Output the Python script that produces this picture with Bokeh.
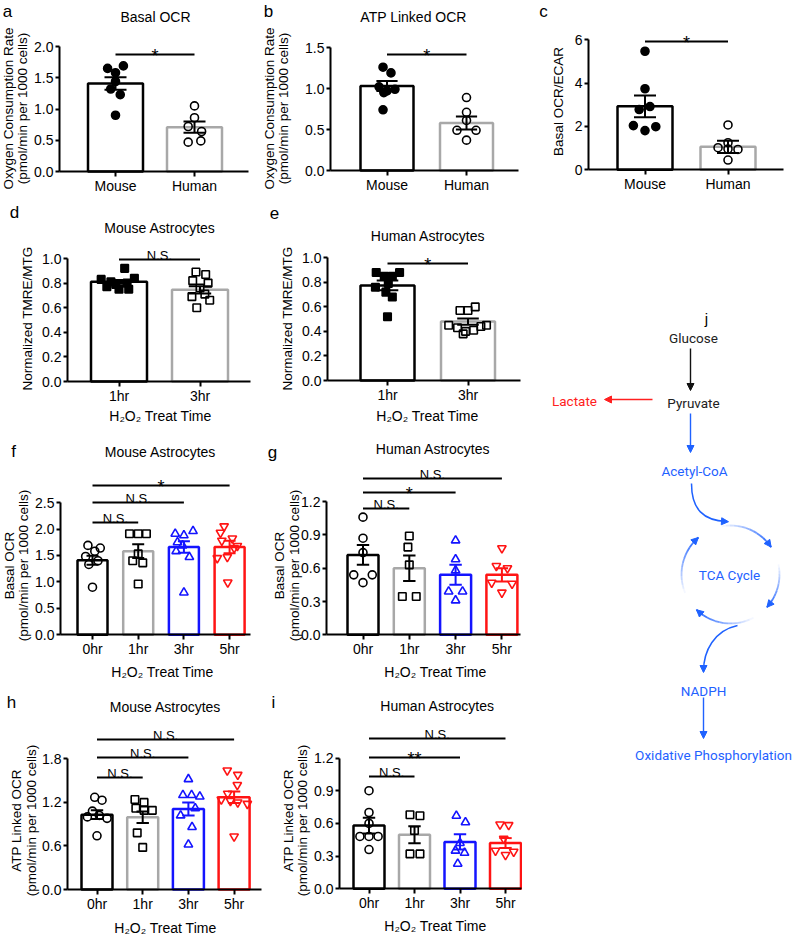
import math
from bokeh.plotting import figure
from bokeh.layouts import row, column
from bokeh.models import Range1d, FixedTicker, PrintfTickFormatter, Label, Arrow, NormalHead
from bokeh.embed import file_html
from bokeh.resources import INLINE

# ---------------- data ----------------
cats_species = ["Mouse", "Human"]
cats_1_3 = ["1hr", "3hr"]
cats_time = ["0hr", "1hr", "3hr", "5hr"]

# a  Basal OCR
a_means = [1.41, 0.71]
a_sems = [0.10, 0.09]
a_mouse = [1.65, 1.69, 1.58, 1.44, 1.32, 1.23, 0.90]
a_mouse_dx = [-0.10, 0.10, 0.0, 0.0, -0.06, 0.06, 0.0]
a_human = [1.05, 0.86, 0.72, 0.64, 0.47, 0.49]
a_human_dx = [0.0, 0.0, -0.08, 0.09, -0.08, 0.08]

# b  ATP linked OCR
b_means = [1.03, 0.58]
b_sems = [0.06, 0.08]
b_mouse = [1.26, 1.19, 1.02, 0.99, 0.97, 0.95, 0.74]
b_mouse_dx = [-0.05, 0.05, -0.10, 0.10, 0.0, -0.04, -0.05]
b_human = [0.89, 0.71, 0.61, 0.49, 0.49, 0.37]
b_human_dx = [0.0, 0.0, 0.0, -0.12, 0.12, 0.0]

# c  Basal OCR/ECAR
c_means = [2.93, 1.06]
c_sems = [0.50, 0.28]
c_mouse = [5.47, 3.74, 2.92, 2.78, 2.04, 1.99, 1.81]
c_mouse_dx = [0.0, 0.0, 0.06, -0.07, -0.14, 0.13, 0.0]
c_human = [2.07, 1.25, 1.02, 0.96, 0.94, 0.45]
c_human_dx = [0.0, 0.0, -0.12, 0.0, 0.12, 0.0]

# d  Mouse astrocytes TMRE/MTG
d_means = [0.81, 0.745]
d_sems = [0.015, 0.03]
d_1hr = [0.92, 0.83, 0.84, 0.81, 0.80, 0.79, 0.77, 0.75, 0.75]
d_1hr_dx = [0.07, -0.22, 0.19, -0.10, 0.10, -0.04, -0.15, 0.12, 0.0]
d_3hr = [0.89, 0.87, 0.82, 0.80, 0.76, 0.71, 0.69, 0.66, 0.60]
d_3hr_dx = [-0.05, 0.07, -0.09, 0.10, 0.0, 0.06, -0.10, 0.12, -0.04]

# e  Human astrocytes TMRE/MTG
e_means = [0.775, 0.48]
e_sems = [0.04, 0.025]
e_1hr = [0.88, 0.85, 0.85, 0.88, 0.79, 0.76, 0.72, 0.68, 0.52]
e_1hr_dx = [-0.14, -0.04, 0.06, 0.15, 0.01, -0.15, -0.02, 0.06, 0.0]
e_3hr = [0.57, 0.57, 0.60, 0.45, 0.43, 0.40, 0.41, 0.44, 0.45, 0.38]
e_3hr_dx = [-0.10, 0.0, 0.09, -0.24, -0.13, -0.03, 0.07, 0.16, 0.23, -0.06]

# f  Mouse astrocytes basal OCR
f_means = [1.41, 1.58, 1.66, 1.66]
f_sems = [0.085, 0.13, 0.11, 0.12]
f_0hr = [1.69, 1.64, 1.58, 1.48, 1.40, 1.33, 0.90]
f_0hr_dx = [-0.10, 0.17, 0.05, -0.15, 0.12, -0.08, 0.0]
f_1hr = [1.91, 1.91, 1.91, 1.53, 1.40, 1.36, 0.96]
f_1hr_dx = [-0.19, 0.0, 0.18, 0.0, -0.12, 0.10, 0.0]
f_3hr = [1.91, 1.88, 1.96, 1.75, 1.69, 1.58, 1.47, 0.80]
f_3hr_dx = [-0.19, 0.0, 0.20, -0.14, -0.03, -0.17, 0.12, 0.0]
f_5hr = [2.05, 1.93, 1.82, 1.78, 1.68, 1.64, 1.47, 1.45, 0.99]
f_5hr_dx = [-0.12, -0.20, 0.06, -0.17, 0.17, 0.10, -0.05, -0.27, -0.04]

# g  Human astrocytes basal OCR
g_means = [0.72, 0.60, 0.54, 0.54]
g_sems = [0.09, 0.115, 0.09, 0.06]
g_0hr = [1.06, 0.87, 0.74, 0.54, 0.54, 0.47]
g_0hr_dx = [0.0, 0.0, 0.0, -0.20, 0.20, 0.0]
g_1hr = [0.89, 0.79, 0.63, 0.345, 0.345]
g_1hr_dx = [0.0, -0.03, 0.0, -0.15, 0.15]
g_3hr = [0.85, 0.68, 0.58, 0.39, 0.39, 0.31]
g_3hr_dx = [0.0, 0.0, 0.0, -0.15, 0.15, 0.0]
g_5hr = [0.78, 0.62, 0.60, 0.47, 0.46, 0.38]
g_5hr_dx = [0.0, -0.12, 0.12, -0.22, 0.22, 0.0]

# h  Mouse astrocytes ATP linked OCR
h_means = [1.03, 0.995, 1.11, 1.27]
h_sems = [0.06, 0.08, 0.09, 0.08]
h_0hr = [1.27, 1.23, 1.08, 1.02, 1.00, 0.98, 0.74]
h_0hr_dx = [-0.05, 0.11, -0.10, 0.05, -0.21, 0.22, 0.0]
h_1hr = [1.24, 1.20, 1.12, 1.09, 1.09, 0.78, 0.58]
h_1hr_dx = [-0.17, 0.03, -0.15, 0.03, 0.21, -0.12, 0.0]
h_3hr = [1.52, 1.30, 1.30, 1.28, 1.12, 1.02, 0.86, 0.62]
h_3hr_dx = [0.0, -0.12, 0.07, 0.25, 0.15, -0.17, 0.08, 0.0]
h_5hr = [1.64, 1.58, 1.44, 1.32, 1.24, 1.22, 1.20, 1.18, 0.73]
h_5hr_dx = [-0.15, 0.08, 0.07, -0.14, -0.28, -0.08, 0.08, 0.29, 0.0]

# i  Human astrocytes ATP linked OCR
i_means = [0.58, 0.495, 0.43, 0.42]
i_sems = [0.072, 0.078, 0.07, 0.045]
i_0hr = [0.90, 0.70, 0.60, 0.48, 0.48, 0.48, 0.36]
i_0hr_dx = [0.0, 0.0, 0.0, -0.20, 0.0, 0.20, 0.0]
i_1hr = [0.68, 0.67, 0.535, 0.32, 0.32]
i_1hr_dx = [-0.10, 0.12, 0.0, -0.10, 0.12]
i_3hr = [0.67, 0.61, 0.42, 0.35, 0.33, 0.23]
i_3hr_dx = [-0.08, 0.12, 0.0, -0.10, 0.10, -0.05]
i_5hr = [0.59, 0.585, 0.46, 0.35, 0.31, 0.34]
i_5hr_dx = [-0.12, 0.07, -0.04, -0.22, 0.0, 0.18]

# ---------------- styling ----------------
FONT = "Liberation Sans"
BLACK = "#000000"
GREY = "#a8a8a8"
BLUE = "#1414ff"
RED = "#ff1414"
DBLUE = "#1f62ff"
DRED = "#ff2020"

ST_MOUSE = dict(marker="circle", fill=BLACK, line=BLACK, size=8)
ST_HUMAN = dict(marker="circle", fill=None, line=BLACK, size=8)
ST_SQF = dict(marker="square", fill=BLACK, line=BLACK, size=7.5)
ST_SQO = dict(marker="square", fill=None, line=BLACK, size=7.5)
ST_T0 = dict(marker="circle", fill=None, line=BLACK, size=8)
ST_T1 = dict(marker="square", fill=None, line=BLACK, size=7.5)
ST_T3 = dict(marker="triangle", fill=None, line=BLUE, size=8.5)
ST_T5 = dict(marker="inverted_triangle", fill=None, line=RED, size=8.5)

XLAB = "H\u2082O\u2082 Treat Time"
PMOL = "(pmol/min per 1000 cells)"


def label(p, x, y, text, size, color=BLACK, font=FONT, angle=0.0, align="center",
          baseline="middle"):
    p.add_layout(Label(x=x, y=y, text=text, text_align=align, text_baseline=baseline,
                       text_font=font, text_font_size=size, text_color=color, angle=angle))


def build(g, cats, means, sems, groups, bar_colors, err_colors, yticks, fmt,
          ylabels, xlabel, title, letter, sigs):
    fx, fy, W, H = g["fx"], g["fy"], g["W"], g["H"]
    ax, ar, y0, ppu, c0, dc = g["ax"], g["ar"], g["y0"], g["ppu"], g["c0"], g["dc"]

    def X(sx):
        return (sx - c0) / dc

    def Y(sy):
        return (y0 - sy) / ppu

    p = figure(width=W, height=H, x_range=Range1d(X(fx), X(fx + W)),
               y_range=Range1d(Y(fy + H), Y(fy)), min_border=0,
               output_backend="svg", toolbar_location=None, title=None)
    p.xgrid.visible = False
    p.ygrid.visible = False
    p.outline_line_color = None
    p.background_fill_color = "white"
    p.border_fill_color = "white"

    n = len(cats)
    idx = list(range(n))
    p.xaxis.fixed_location = 0
    p.yaxis.fixed_location = X(ax)
    p.xaxis.bounds = (X(ax), X(ar))
    p.yaxis.bounds = (0, yticks[-1])
    p.xaxis.ticker = FixedTicker(ticks=idx)
    p.xaxis.major_label_overrides = {i: c for i, c in enumerate(cats)}
    p.yaxis.ticker = FixedTicker(ticks=yticks)
    p.yaxis.formatter = PrintfTickFormatter(format=fmt)
    for a in p.axis:
        a.axis_line_width = 2
        a.axis_line_color = BLACK
        a.major_tick_line_width = 2
        a.major_tick_line_color = BLACK
        a.major_tick_in = 0
        a.minor_tick_line_color = None
        a.major_label_text_font = FONT
        a.major_label_text_font_size = "14px"
        a.major_label_text_color = BLACK
    p.xaxis.major_tick_out = 5
    p.xaxis.major_label_standoff = 1
    p.yaxis.major_tick_out = 4
    p.yaxis.major_label_standoff = 2

    bw = g["bar"] / dc
    p.vbar(x=idx, width=bw, top=means, bottom=0, fill_color="white",
           line_color=bar_colors, line_width=2.5)

    for k, (vals, dxs, st) in enumerate(groups):
        p.scatter(x=[k + d for d in dxs], y=vals, marker=st["marker"], size=st["size"],
                  fill_color=st["fill"], line_color=st["line"], line_width=1.6)

    cw = 0.4 * bw / 2
    lo = [m - s for m, s in zip(means, sems)]
    hi = [m + s for m, s in zip(means, sems)]
    p.segment(x0=idx, y0=lo, x1=idx, y1=hi, line_color=err_colors, line_width=2)
    p.segment(x0=[i - cw for i in idx], y0=hi, x1=[i + cw for i in idx], y1=hi,
              line_color=err_colors, line_width=2)
    p.segment(x0=[i - cw for i in idx], y0=lo, x1=[i + cw for i in idx], y1=lo,
              line_color=err_colors, line_width=2)

    for (i0, i1, txt, ly) in sigs:
        p.segment(x0=[i0], y0=[Y(ly)], x1=[i1], y1=[Y(ly)], line_color=BLACK, line_width=2)
        if "*" in txt:
            label(p, (i0 + i1) / 2, Y(ly + 1.5), txt, "18px", baseline="alphabetic")
        else:
            label(p, (i0 + i1) / 2, Y(ly - 4), txt, "13px", baseline="alphabetic")

    for (txt, sx, sy) in ylabels:
        label(p, X(sx), Y(sy), txt, "13.5px", angle=math.pi / 2)
    if xlabel:
        label(p, X(xlabel[0]), Y(xlabel[1]), XLAB, "14px")
    if title:
        label(p, X(title[0]), Y(title[1]), title[2], "14px")
    label(p, X(letter[0]), Y(letter[1]), letter[2], "17px")
    return p


# ---------------- panels ----------------
pa = build(dict(fx=0, fy=0, W=262, H=200, ax=59, ar=248, y0=171, ppu=62.5, c0=115, dc=79, bar=55),
           cats_species, a_means, a_sems,
           [(a_mouse, a_mouse_dx, ST_MOUSE), (a_human, a_human_dx, ST_HUMAN)],
           [BLACK, GREY], [BLACK, BLACK], [0, 0.5, 1.0, 1.5, 2.0], "%.1f",
           [("Oxygen Consumption Rate", 8, 108), (PMOL, 22, 108)], None,
           (155, 16, "Basal OCR"), (7, 11, "a"), [(0, 1, "*", 54)])

pb = build(dict(fx=262, fy=0, W=260, H=200, ax=330, ar=518, y0=170, ppu=82, c0=386.5, dc=79.5, bar=53),
           cats_species, b_means, b_sems,
           [(b_mouse, b_mouse_dx, ST_MOUSE), (b_human, b_human_dx, ST_HUMAN)],
           [BLACK, GREY], [BLACK, BLACK], [0, 0.5, 1.0, 1.5], "%.1f",
           [("Oxygen Consumption Rate", 269, 108), (PMOL, 283, 108)], None,
           (413, 16, "ATP Linked OCR"), (268, 11, "b"), [(0, 1, "*", 54)])

pc = build(dict(fx=522, fy=0, W=278, H=200, ax=588, ar=783, y0=169.3, ppu=21.67, c0=644.5, dc=83, bar=55),
           cats_species, c_means, c_sems,
           [(c_mouse, c_mouse_dx, ST_MOUSE), (c_human, c_human_dx, ST_HUMAN)],
           [BLACK, GREY], [BLACK, BLACK], [0, 2, 4, 6], "%d",
           [("Basal OCR/ECAR", 558, 101)], None,
           None, (543, 11, "c"), [(0, 1, "*", 41)])

pd_ = build(dict(fx=0, fy=200, W=262, H=225, ax=67, ar=250, y0=381, ppu=123, c0=118.5, dc=81, bar=56),
            cats_1_3, d_means, d_sems,
            [(d_1hr, d_1hr_dx, ST_SQF), (d_3hr, d_3hr_dx, ST_SQO)],
            [BLACK, GREY], [BLACK, BLACK], [0, 0.2, 0.4, 0.6, 0.8, 1.0], "%.1f",
            [("Normalized TMRE/MTG", 27, 318)], (160, 415),
            (159.5, 227, "Mouse Astrocytes"), (14, 212, "d"), [(0, 1, "N.S.", 259)])

pe = build(dict(fx=262, fy=200, W=260, H=225, ax=327, ar=520, y0=380, ppu=122.7, c0=387, dc=80.5, bar=54),
           cats_1_3, e_means, e_sems,
           [(e_1hr, e_1hr_dx, ST_SQF), (e_3hr, e_3hr_dx, ST_SQO)],
           [BLACK, GREY], [BLACK, BLACK], [0, 0.2, 0.4, 0.6, 0.8, 1.0], "%.1f",
           [("Normalized TMRE/MTG", 287, 318)], (427, 415),
           (427.5, 235, "Human Astrocytes"), (274, 212, "e"), [(0, 1, "*", 263)])

TIME_BARS = [BLACK, GREY, BLUE, RED]
TIME_ERR = [BLACK, BLACK, BLUE, RED]

pf = build(dict(fx=0, fy=425, W=262, H=258, ax=60, ar=250, y0=634.3, ppu=52.9, c0=92, dc=45.7, bar=30),
           cats_time, f_means, f_sems,
           [(f_0hr, f_0hr_dx, ST_T0), (f_1hr, f_1hr_dx, ST_T1),
            (f_3hr, f_3hr_dx, ST_T3), (f_5hr, f_5hr_dx, ST_T5)],
           TIME_BARS, TIME_ERR, [0, 0.5, 1.0, 1.5, 2.0, 2.5], "%.1f",
           [("Basal OCR", 9, 565), (PMOL, 23, 565)], (162, 671),
           (160, 451, "Mouse Astrocytes"), (13, 451, "f"),
           [(0, 1, "N.S.", 522), (0, 2, "N.S.", 502), (0, 3, "*", 485)])

pg = build(dict(fx=262, fy=425, W=260, H=258, ax=326, ar=520, y0=634.3, ppu=111, c0=362.5, dc=46.3, bar=31),
           cats_time, g_means, g_sems,
           [(g_0hr, g_0hr_dx, ST_T0), (g_1hr, g_1hr_dx, ST_T1),
            (g_3hr, g_3hr_dx, ST_T3), (g_5hr, g_5hr_dx, ST_T5)],
           TIME_BARS, TIME_ERR, [0, 0.3, 0.6, 0.9, 1.2], "%.1f",
           [("Basal OCR", 279, 565), (PMOL, 294, 565)], (435, 671),
           (432.5, 448, "Human Astrocytes"), (272, 452, "g"),
           [(0, 1, "N.S.", 508), (0, 2, "*", 492), (0, 3, "N.S.", 478)])

ph = build(dict(fx=0, fy=683, W=262, H=255, ax=67, ar=261, y0=889, ppu=72.6, c0=96.5, dc=45.7, bar=31),
           cats_time, h_means, h_sems,
           [(h_0hr, h_0hr_dx, ST_T0), (h_1hr, h_1hr_dx, ST_T1),
            (h_3hr, h_3hr_dx, ST_T3), (h_5hr, h_5hr_dx, ST_T5)],
           TIME_BARS, TIME_ERR, [0, 0.6, 1.2, 1.8], "%.1f",
           [("ATP Linked OCR", 16, 820), (PMOL, 31, 820)], (165, 927),
           (165, 706, "Mouse Astrocytes"), (11, 702, "h"),
           [(0, 1, "N.S.", 777), (0, 2, "N.S.", 757), (0, 3, "N.S.", 739)])

pi = build(dict(fx=262, fy=683, W=260, H=255, ax=339, ar=521, y0=888.3, ppu=109, c0=368.5, dc=45.5, bar=31),
           cats_time, i_means, i_sems,
           [(i_0hr, i_0hr_dx, ST_T0), (i_1hr, i_1hr_dx, ST_T1),
            (i_3hr, i_3hr_dx, ST_T3), (i_5hr, i_5hr_dx, ST_T5)],
           TIME_BARS, TIME_ERR, [0, 0.3, 0.6, 0.9, 1.2], "%.1f",
           [("ATP Linked OCR", 288, 820), (PMOL, 302, 820)], (435, 925),
           (437, 705, "Human Astrocytes"), (273, 702, "i"),
           [(0, 1, "N.S.", 776), (0, 2, "**", 757), (0, 3, "N.S.", 738)])

# ---------------- panel j : pathway diagram ----------------
pj = figure(width=278, height=738, x_range=Range1d(522, 800), y_range=Range1d(938, 200),
            x_axis_type=None, y_axis_type=None, min_border=0,
            output_backend="svg", toolbar_location=None, title=None)
pj.grid.visible = False
pj.outline_line_color = None

DFONT = "Roboto"
nodes = [("Glucose", 693, 337, "#222222"), ("Pyruvate", 693, 402, "#222222"),
         ("Lactate", 574, 400, DRED), ("Acetyl-CoA", 694, 470, DBLUE),
         ("TCA Cycle", 729, 574, DBLUE), ("NADPH", 703, 690, DBLUE),
         ("Oxidative Phosphorylation", 713, 754, DBLUE)]
for t, x, y, c in nodes:
    label(pj, x, y, t, "13.5px", color=c, font=DFONT)
label(pj, 706, 318, "j", "15px")


def arrow(x0, y0, x1, y1, c, lw=1.4):
    pj.add_layout(Arrow(end=NormalHead(size=7, fill_color=c, line_color=c, line_width=1),
                        x_start=x0, y_start=y0, x_end=x1, y_end=y1,
                        line_color=c, line_width=lw))


arrow(690, 348, 690, 390, "#111111")
arrow(652, 399, 604, 399, DRED)
arrow(690, 413, 690, 452, DBLUE)
arrow(703, 697, 703, 738, DBLUE)

# curved arrows
pj.bezier(x0=[691], y0=[483], x1=[726], y1=[521], cx0=[691], cy0=[509],
          cx1=[703], cy1=[520], line_color=DBLUE, line_width=1.5)
arrow(720, 520.7, 728, 521.2, DBLUE, 0)
pj.bezier(x0=[737], y0=[625], x1=[703], y1=[671], cx0=[714], cy0=[630],
          cx1=[703], cy1=[650], line_color=DBLUE, line_width=1.5)
arrow(703, 664, 703, 672, DBLUE, 0)

# TCA cycle arcs (clockwise, fading at the start)
cx, cy, r = 730, 574, 49
for a0, a1 in [(-100, -34), (-12, 42), (62, 134), (158, 229)]:
    nseg = 14
    ang = [math.radians(a0 + (a1 - a0) * k / nseg) for k in range(nseg + 1)]
    px = [cx + r * math.cos(t) for t in ang]
    py = [cy + r * math.sin(t) for t in ang]
    xs = [[px[k], px[k + 1]] for k in range(nseg)]
    ys = [[py[k], py[k + 1]] for k in range(nseg)]
    al = [0.05 + 0.95 * k / (nseg - 1) for k in range(nseg)]
    pj.multi_line(xs=xs, ys=ys, line_color=DBLUE, line_alpha=al, line_width=1.8)
    arrow(px[-2], py[-2], px[-1], py[-1], DBLUE, 0)

left = column(row(pd_, pe), row(pf, pg), row(ph, pi))
layout = column(row(pa, pb, pc), row(left, pj))

open("out.html", "w").write(file_html(layout, INLINE))
